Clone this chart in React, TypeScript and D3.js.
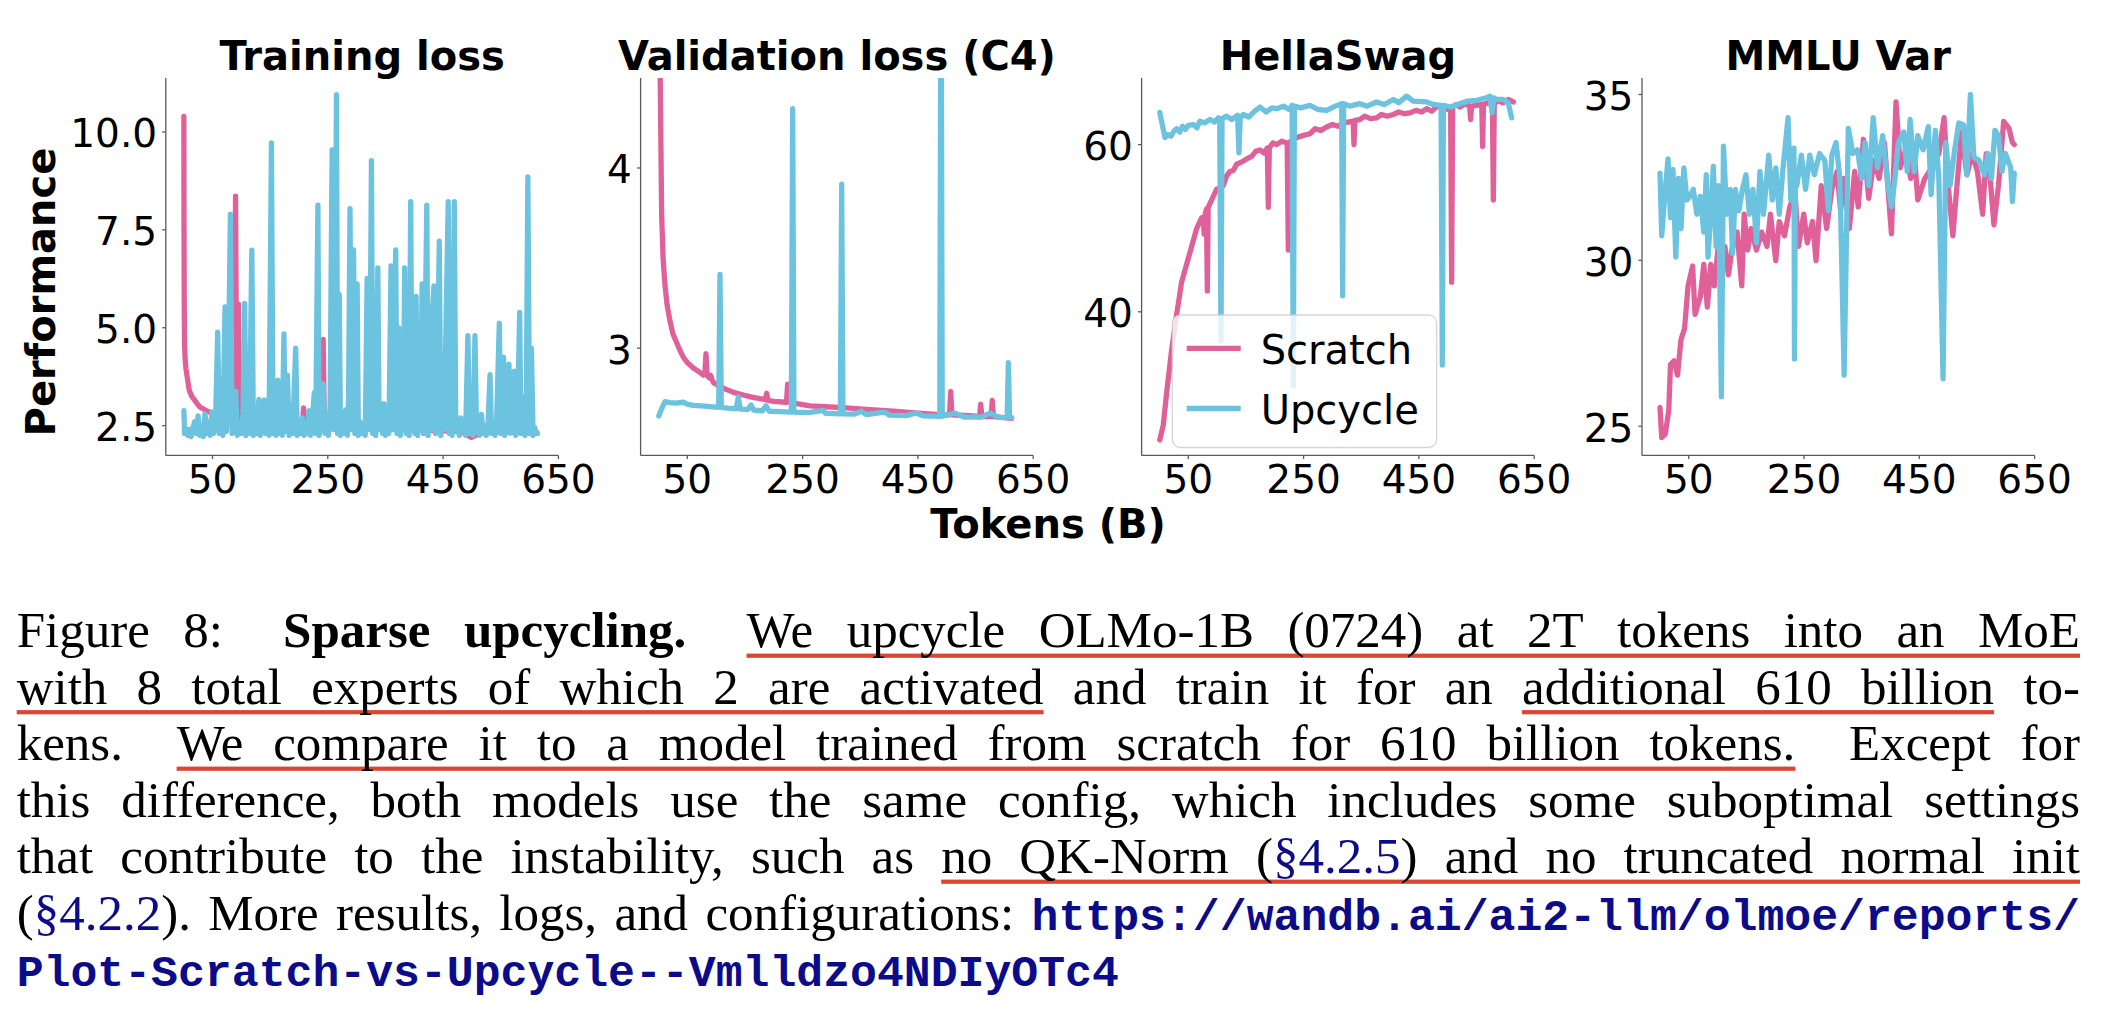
import React, { useEffect, useRef } from 'react';
import * as d3 from 'd3';

type Pt = [number, number];

// ---------------- data ----------------
const PANEL_TITLES = ['Training loss', 'Validation loss (C4)', 'HellaSwag', 'MMLU Var'];
const SERIES_NAMES = ['Scratch', 'Upcycle'];
const X_TICKS = [50, 250, 450, 650];
const X_DOMAIN: [number, number] = [-31, 650];
const Y_TICKS = [[2.5, 5.0, 7.5, 10.0], [3, 4], [40, 60], [25, 30, 35]];
const Y_TICK_LABELS = [['2.5', '5.0', '7.5', '10.0'], ['3', '4'], ['40', '60'], ['25', '30', '35']];
const Y_DOMAINS: [number, number][] = [[1.74, 11.38], [2.405, 4.5], [22.82, 67.98], [24.12, 35.5]];

const trainScratch: Pt[] = [
  [0.3, 10.4], [0.6, 7.5], [1, 5.6], [1.5, 4.6], [2.5, 4.2], [4, 3.95], [6, 3.75], [9.7, 3.4], [14, 3.25],
  [19, 3.15], [24, 3.05], [28.6, 2.97], [35, 2.92], [40.8, 2.87], [47, 2.83], [53, 2.79], [60, 2.75],
  [70, 2.71], [80, 2.68], [88, 2.66], [90, 8.36], [92, 2.65], [95, 5.6], [97, 2.64], [110, 2.61],
  [130, 2.58], [150, 2.56], [170, 2.54], [188, 2.53], [190, 2.9], [192, 2.52], [206, 2.51], [208, 2.95],
  [210, 2.5], [230, 2.49], [240, 2.48], [242, 4.7], [244, 2.48], [270, 2.46], [300, 2.44], [313, 2.52],
  [330, 2.42], [360, 2.41], [383, 2.4], [385, 4.7], [387, 2.4], [420, 2.38], [450, 2.37], [480, 2.36],
  [499, 2.2], [520, 2.35], [560, 2.34], [600, 2.33], [613, 2.32],
];

const trainUpcycle: Pt[] = [
  [0.5, 2.88], [1.5, 2.3], [4, 2.42], [7, 2.25], [10, 2.4], [13, 2.22], [16, 2.45], [19, 2.6], [22, 2.3],
  [25, 2.75], [28, 2.25], [31, 2.5], [34, 2.22], [37, 2.8], [40, 2.3], [43, 2.6], [46, 2.25], [49, 2.85],
  [52, 2.3], [55, 2.45], [59, 4.89], [62, 2.3], [65, 2.7], [68, 2.25], [71.7, 5.53], [74, 2.35], [77, 3.1],
  [81, 7.9], [84, 2.3], [87, 3.0], [90.3, 3.38], [93, 2.25], [96, 2.6], [100, 2.3], [103, 2.8], [105.8, 5.62],
  [108, 2.25], [111, 2.5], [114, 2.3], [118.2, 6.98], [121, 2.25], [124, 2.6], [127, 2.3], [130.5, 3.17],
  [133, 2.25], [136, 2.5], [139.8, 3.16], [142, 2.3], [145, 2.55], [148, 2.25], [152.2, 9.72], [155, 2.3],
  [158, 2.6], [160, 2.25], [163.4, 3.66], [166, 2.3], [169, 2.7], [171, 2.25], [173.9, 4.84], [176, 2.35],
  [180.1, 3.79], [183, 2.25], [186, 2.6], [189, 2.3], [194.3, 4.48], [197, 2.25], [200, 2.5], [203, 2.3],
  [206, 2.7], [209, 2.25], [212, 2.55], [215, 2.3], [217.3, 2.88], [220, 2.25], [223, 2.6], [226.6, 3.34],
  [229, 2.3], [232.8, 8.13], [235, 2.25], [238, 2.7], [242, 3.57], [245, 2.3], [248, 2.5], [251, 2.25],
  [254, 3.0], [257.5, 9.54], [260, 2.4], [263, 5.8], [265, 10.95], [267, 2.3], [269.9, 5.85], [272, 2.25],
  [275, 2.6], [278, 2.3], [281, 2.9], [284, 2.25], [286, 3.2], [288.5, 8.04], [291, 2.4], [294.7, 6.99],
  [297, 2.3], [300.9, 6.12], [303, 2.25], [306, 2.6], [309, 2.3], [312, 2.5], [315, 2.25], [318.2, 6.26],
  [320, 2.4], [323, 3.5], [325.7, 9.27], [328, 2.3], [331, 5.2], [333, 2.25], [336.8, 6.53], [339, 2.4],
  [342, 3.06], [345, 2.3], [347.4, 3.06], [350, 2.25], [353, 3.0], [356, 2.3], [359.7, 6.58], [362, 2.4],
  [365, 4.5], [367.8, 6.99], [370, 2.3], [373, 5.0], [376, 2.25], [379, 4.2], [381, 2.4], [383.3, 6.53],
  [386, 2.3], [389, 5.5], [391, 2.25], [393.8, 8.22], [396, 2.4], [399, 5.2], [401, 2.3], [403.1, 5.8],
  [406, 2.25], [409, 4.8], [411, 2.4], [413.6, 6.12], [416, 2.3], [419, 5.0], [421.7, 8.13], [424, 2.25],
  [427, 4.5], [429, 2.4], [431, 5.3], [434.1, 6.07], [437, 2.3], [440, 4.0], [443.4, 7.21], [446, 2.25],
  [449, 3.2], [452, 2.4], [455, 5.0], [458.9, 8.22], [461, 2.3], [464, 3.0], [466, 2.25], [469.4, 8.22],
  [472, 2.4], [475, 2.6], [478, 2.25], [480.6, 2.7], [483, 2.35], [486, 2.55], [489, 2.25], [493, 4.8],
  [496, 2.3], [499, 2.6], [502, 2.25], [505.3, 4.8], [508, 2.35], [511, 2.5], [513, 2.25], [516.5, 2.79],
  [519, 2.3], [522, 2.5], [525, 2.25], [528, 2.6], [531.4, 3.8], [534, 2.3], [537, 2.55], [540, 2.25],
  [543, 2.7], [547.5, 5.12], [550, 2.3], [552, 3.2], [554.9, 4.25], [557, 2.25], [560, 3.0], [564.2, 4.07],
  [567, 2.3], [570, 3.1], [573.5, 3.89], [576, 2.25], [579, 2.6], [582.8, 5.39], [585, 2.3], [589, 3.24],
  [592, 2.25], [594, 2.5], [597, 8.85], [600, 2.3], [603.2, 4.48], [606, 2.25], [609, 2.45], [611, 2.3],
  [613.7, 2.3],
];

const valScratch: Pt[] = [
  [0.5, 9.0], [2.7, 4.6], [5.5, 3.74], [8, 3.5], [11.3, 3.35], [15, 3.24], [20, 3.15], [25, 3.08],
  [31.6, 3.03], [37, 2.99], [43.1, 2.95], [50, 2.92], [60.5, 2.89], [70, 2.87], [78, 2.85], [80.5, 2.86],
  [82.4, 2.97], [84.3, 2.85], [88, 2.835], [90.5, 2.85], [92.3, 2.83], [95.2, 2.81], [105, 2.79],
  [118.3, 2.77], [130, 2.755], [147.2, 2.74], [160, 2.73], [176.1, 2.72], [185.5, 2.715], [187.7, 2.75],
  [190, 2.71], [200, 2.705], [222, 2.70], [224.1, 2.80], [226.3, 2.70], [245, 2.69], [262.9, 2.68],
  [290, 2.675], [320.7, 2.67], [360, 2.66], [407.4, 2.65], [450, 2.64], [494.1, 2.63], [505, 2.63],
  [506.9, 2.76], [509, 2.63], [540, 2.625], [557, 2.62], [558.9, 2.69], [561, 2.62], [577, 2.62],
  [579, 2.71], [581, 2.62], [600, 2.615], [612.7, 2.61],
];

const valUpcycle: Pt[] = [
  [0.5, 2.624], [5, 2.66], [11.3, 2.703], [20, 2.698], [30, 2.695], [43, 2.70], [50, 2.69], [60, 2.683],
  [75, 2.68], [90, 2.676], [104.5, 2.672], [106.7, 3.41], [109, 2.672], [120, 2.667], [135, 2.664],
  [138.5, 2.73], [142, 2.662], [155, 2.66], [160.5, 2.685], [165, 2.657], [180, 2.652], [186.5, 2.68],
  [192, 2.65], [210, 2.648], [230.5, 2.645], [232.8, 4.33], [235, 2.645], [260, 2.642], [286, 2.655],
  [290, 2.638], [315.5, 2.636], [317.8, 3.91], [320, 2.636], [340, 2.634], [352.5, 2.65], [360, 2.632],
  [392.9, 2.645], [400, 2.629], [430, 2.626], [446.7, 2.64], [460, 2.624], [488, 2.622], [490.1, 5.5],
  [492.2, 2.622], [514.4, 2.64], [530, 2.618], [560, 2.617], [575.1, 2.64], [590, 2.616], [604.8, 2.615],
  [606.9, 2.92], [609, 2.615], [612.7, 2.614],
];

const hellaScratch: Pt[] = [
  [0.5, 24.66], [6.6, 26.45], [12.4, 30.3], [21.1, 35.43], [29.8, 39.7], [38.4, 43.55], [47.1, 45.68],
  [55.8, 47.82], [64.5, 49.96], [73.1, 51.24], [76, 51.3], [77.5, 49.3], [79, 51.6], [81.5, 52.3],
  [83, 42.5], [84.5, 52.5], [90.5, 53.38], [99.2, 54.66], [105, 54.8], [110.7, 55.09], [116, 56.2],
  [122.3, 56.79], [128, 56.9], [133.8, 57.65], [142, 57.9], [151.2, 58.29], [160, 58.6], [167, 59.2],
  [174.3, 59.36], [181, 59.0], [187, 59.6], [188.8, 52.52], [190.5, 59.6], [197, 60.2], [203.2, 60.0],
  [212, 60.4], [221.5, 60.2], [223.5, 47.39], [225.5, 60.3], [232.1, 60.6], [240, 60.9], [250, 61.1],
  [261, 61.3], [270, 61.9], [280, 61.7], [290, 62.1], [300, 62.4], [310, 62.2], [318.9, 62.6], [327, 62.7],
  [336, 62.8], [337.4, 60.0], [339, 62.9], [347.8, 63.0], [356, 63.4], [366, 63.1], [376.7, 63.2],
  [385, 63.6], [395, 63.4], [405.6, 63.6], [415, 63.9], [425, 63.7], [434.5, 63.8], [445, 64.1],
  [455, 63.9], [463.4, 64.3], [472, 64.0], [482, 64.6], [492.3, 64.5], [500, 64.2], [505, 64.5],
  [506.8, 43.55], [508.5, 64.5], [515, 64.8], [521.2, 64.5], [530, 64.9], [538, 64.6], [539.7, 63.0],
  [541.5, 64.6], [550.2, 64.7], [559, 64.8], [560.6, 59.79], [562, 64.8], [570, 65.0], [577.5, 64.9],
  [579.1, 53.38], [580.7, 64.9], [588, 65.3], [596, 65.0], [605, 65.4], [613.8, 65.1],
];

const hellaUpcycle: Pt[] = [
  [0.5, 63.85], [9.5, 60.85], [15, 61.2], [20, 61.0], [25, 61.6], [29.8, 61.9], [35, 61.5], [40, 62.2],
  [45, 61.8], [50, 62.3], [58.7, 62.4], [65, 62.0], [70, 62.8], [78, 62.6], [87.6, 63.0], [95, 62.7],
  [102, 63.2], [104.5, 62.9], [106.7, 36.5], [108.5, 63.1], [116.5, 63.4], [125, 63.0], [135.5, 63.5],
  [137.9, 59.02], [140, 63.2], [145.4, 63.6], [155, 63.3], [165, 64.0], [174.3, 64.5], [185, 63.9],
  [195, 64.4], [203.2, 64.3], [215, 64.6], [225, 64.2], [230, 64.7], [232.1, 31.15], [234, 64.6],
  [245, 64.4], [261, 64.7], [275, 64.2], [290, 64.1], [305, 64.6], [316, 64.9], [317.7, 41.92],
  [319.5, 64.9], [330, 64.6], [347.8, 64.9], [360, 64.6], [376.7, 65.1], [390, 64.8], [405.6, 65.4],
  [415, 65.0], [428.7, 65.8], [440, 65.2], [463.4, 65.1], [475, 64.8], [488.5, 64.7], [490.6, 33.63],
  [492.5, 64.7], [505, 64.5], [521.2, 64.9], [535, 65.2], [550.2, 65.3], [562, 65.5], [573.3, 65.8],
  [577, 63.8], [580, 65.6], [585, 65.4], [596.4, 65.4], [605, 65.0], [610.9, 63.2],
];

const mmluScratch: Pt[] = [
  [0.2, 25.57], [3.2, 24.66], [9.3, 24.76], [15.4, 25.46], [18.4, 26.86], [24.5, 26.97], [30.6, 26.54],
  [36.7, 27.62], [42.8, 27.94], [48.9, 29.23], [56.8, 29.83], [61.0, 28.37], [70.2, 28.91], [76.2, 29.88],
  [82.3, 28.59], [88.4, 29.88], [94.5, 29.23], [100.6, 30.31], [106.7, 30.10], [112.7, 30.42],
  [118.8, 29.56], [124.9, 30.31], [134.0, 30.85], [142.0, 29.23], [146.2, 31.39], [152.3, 30.31],
  [158.4, 30.96], [167.5, 30.31], [176.6, 30.85], [185.8, 30.42], [191.8, 31.39], [201.0, 29.99],
  [207.1, 31.17], [216.2, 30.74], [225.3, 31.61], [234.4, 32.04], [240.5, 30.42], [249.6, 31.39],
  [255.7, 30.53], [264.8, 31.17], [270.9, 29.99], [280.0, 32.25], [289.2, 30.96], [298.3, 32.14],
  [307.4, 32.68], [313.5, 31.50], [319.6, 32.47], [328.7, 30.96], [337.9, 32.68], [344.0, 31.61],
  [353.1, 33.65], [362.2, 31.87], [371.3, 33.01], [380.4, 32.47], [389.6, 33.55], [401.7, 30.80],
  [409.6, 34.78], [417.0, 32.79], [426.1, 33.33], [435.2, 32.47], [441.3, 33.22], [447.4, 31.82],
  [459.5, 32.47], [471.7, 32.79], [483.9, 33.22], [493.0, 34.30], [499.1, 32.47], [508.2, 30.74],
  [514.3, 32.04], [523.4, 33.87], [532.5, 32.58], [541.7, 33.22], [550.8, 32.68], [559.9, 31.39],
  [566.0, 33.22], [572.1, 32.68], [579.4, 31.07], [587.3, 32.25], [596.4, 34.19], [605.6, 33.98],
  [611.6, 33.55], [614.7, 33.49],
];

const mmluUpcycle: Pt[] = [
  [0.2, 32.63], [3.2, 30.74], [9.3, 32.14], [14.2, 33.06], [18.4, 31.28], [22.7, 32.74], [27.6, 30.10],
  [32.4, 32.47], [36.7, 30.96], [41.6, 32.79], [47.0, 31.82], [51.9, 31.93], [58.0, 32.14], [64.1, 31.39],
  [70.2, 31.93], [76.2, 30.85], [80.5, 32.58], [83.5, 30.10], [88.4, 31.39], [92.7, 32.84], [97.5, 30.42],
  [101.8, 32.25], [106.7, 25.89], [110.3, 33.44], [115.8, 31.39], [121.9, 32.14], [126.1, 30.20],
  [131.0, 32.14], [137.1, 31.50], [143.2, 32.14], [149.3, 32.58], [155.3, 31.39], [161.4, 32.14],
  [167.5, 30.53], [173.6, 32.68], [179.7, 31.39], [188.8, 33.17], [194.9, 31.82], [201.0, 32.79],
  [207.1, 31.39], [213.1, 32.68], [222.3, 34.30], [227.1, 31.82], [232.6, 33.38], [233.5, 27.03],
  [235.0, 32.3], [237.5, 32.25], [245.4, 33.17], [252.7, 32.14], [260.0, 33.17], [267.9, 32.58],
  [277.0, 33.22], [286.1, 33.01], [292.2, 31.50], [298.3, 33.17], [305.6, 33.55], [312.3, 32.47],
  [319.6, 26.54], [326.9, 33.98], [334.8, 33.22], [342.7, 33.33], [350.0, 32.47], [356.1, 33.55],
  [362.2, 32.25], [370.1, 34.30], [377.4, 32.79], [386.5, 33.76], [395.7, 32.25], [401.7, 31.61],
  [407.8, 32.47], [413.9, 33.55], [423.0, 33.87], [429.1, 32.68], [434.0, 34.25], [441.3, 32.68],
  [447.4, 33.76], [456.5, 33.33], [465.6, 34.03], [470.5, 31.98], [477.8, 33.92], [483.9, 32.47],
  [491.2, 26.43], [496.0, 33.55], [503.3, 32.25], [511.3, 33.33], [518.6, 34.14], [526.5, 34.08],
  [532.5, 32.58], [538.6, 35.0], [544.7, 33.11], [553.8, 33.01], [563.0, 32.58], [569.0, 33.22],
  [575.1, 32.47], [581.2, 33.92], [587.3, 33.76], [593.4, 32.68], [599.4, 33.22], [608.6, 32.79],
  [611.6, 31.77], [614.7, 32.63],
];

const PANEL_SERIES: [Pt[], Pt[]][] = [
  [trainScratch, trainUpcycle],
  [valScratch, valUpcycle],
  [hellaScratch, hellaUpcycle],
  [mmluScratch, mmluUpcycle],
];

const CAPTION_LINES = [
  'Figure 8:  **Sparse** **upcycling.**  We upcycle OLMo-1B (0724) at 2T tokens into an MoE',
  'with 8 total experts of which 2 are activated and train it for an additional 610 billion to-',
  'kens.  We compare it to a model trained from scratch for 610 billion tokens.  Except for',
  'this difference, both models use the same config, which includes some suboptimal settings',
  'that contribute to the instability, such as no QK-Norm ([§4.2.5]) and no truncated normal init',
  '([§4.2.2]). More results, logs, and configurations: `https://wandb.ai/ai2-llm/olmoe/reports/`',
  '`Plot-Scratch-vs-Upcycle--Vmlldzo4NDIyOTc4`',
];
// [line, first word, last word]
const UNDERLINES: [number, number, number][] = [
  [0, 4, 13], [1, 0, 8], [1, 14, 16], [2, 1, 13], [4, 7, 14],
];

// ---------------- style / layout ----------------
const COLORS = ['#e0609a', '#6cc3df'];
const SANS = 'DejaVu Sans, sans-serif';
const SERIF = 'Liberation Serif, Times New Roman, serif';
const MONO = 'Liberation Mono, Courier New, monospace';
const LINK = '#0c0c8a';
const PANEL_LEFT = [165.8, 640.6, 1141.6, 1642];
const PANEL_W = 392.6;
const TOP = 77.9;
const BOTTOM = 455.4;
const LW = 5.3;

function Panel({ idx }: { idx: number }) {
  const left = PANEL_LEFT[idx];
  const right = left + PANEL_W;
  const xs = d3.scaleLinear().domain(X_DOMAIN).range([left, right]);
  const ys = d3.scaleLinear().domain(Y_DOMAINS[idx]).range([BOTTOM, TOP]);
  const line = d3.line<Pt>().x((d) => xs(d[0])).y((d) => ys(d[1]));
  const clipId = `clip-${idx}`;
  const spine = '#5a5a5a';
  return (
    <g>
      <defs>
        <clipPath id={clipId}>
          <rect x={left} y={TOP} width={PANEL_W} height={BOTTOM - TOP} />
        </clipPath>
      </defs>
      <g clipPath={`url(#${clipId})`}>
        {PANEL_SERIES[idx].map((s, k) => (
          <path key={k} d={line(s) || ''} fill="none" stroke={COLORS[k]} strokeWidth={LW}
            strokeLinejoin="round" strokeLinecap="round" />
        ))}
      </g>
      <line x1={left} y1={TOP} x2={left} y2={BOTTOM} stroke={spine} strokeWidth={1.3} />
      <line x1={left} y1={BOTTOM} x2={right} y2={BOTTOM} stroke={spine} strokeWidth={1.3} />
      {X_TICKS.map((t) => (
        <g key={t}>
          <line x1={xs(t)} x2={xs(t)} y1={BOTTOM} y2={BOTTOM + 3.6} stroke={spine} strokeWidth={1.3} />
          <text x={xs(t)} y={493} textAnchor="middle" fontFamily={SANS} fontSize={39} fill="#000">{t}</text>
        </g>
      ))}
      {Y_TICKS[idx].map((t, k) => (
        <g key={t}>
          <line x1={left - 3.6} x2={left} y1={ys(t)} y2={ys(t)} stroke={spine} strokeWidth={1.3} />
          <text x={left - 8.7} y={ys(t) + 15.5} textAnchor="end" fontFamily={SANS} fontSize={39} fill="#000">
            {Y_TICK_LABELS[idx][k]}
          </text>
        </g>
      ))}
      <text x={(left + right) / 2} y={70} textAnchor="middle" fontFamily={SANS} fontWeight="bold" fontSize={40}>
        {PANEL_TITLES[idx]}
      </text>
    </g>
  );
}

function Legend() {
  const x0 = 1172.3, y0 = 315, w = 264.4, h = 132.5;
  const rows = [348.3, 408.5];
  return (
    <g>
      <rect x={x0} y={y0} width={w} height={h} rx={8} ry={8} fill="#fff" fillOpacity={0.8}
        stroke="#cccccc" strokeOpacity={0.8} strokeWidth={1.3} />
      {SERIES_NAMES.map((n, k) => (
        <g key={n}>
          <line x1={1186.7} x2={1240.7} y1={rows[k]} y2={rows[k]} stroke={COLORS[k]} strokeWidth={LW} />
          <text x={1260.7} y={rows[k] + 15.2} fontFamily={SANS} fontSize={40} fill="#000">{n}</text>
        </g>
      ))}
    </g>
  );
}

type Seg = { text: string; kind: 'n' | 'b' | 'l' | 'm' };
function parseSegs(raw: string): Seg[] {
  const parts = raw.split(/(\*\*[^*]+\*\*|\[[^\]]+\]|`[^`]+`)/).filter((p) => p.length > 0);
  return parts.map((p) => {
    if (p.startsWith('**')) return { text: p.slice(2, -2), kind: 'b' };
    if (p.startsWith('[')) return { text: p.slice(1, -1), kind: 'l' };
    if (p.startsWith('`')) return { text: p.slice(1, -1), kind: 'm' };
    return { text: p, kind: 'n' };
  });
}

function Caption() {
  const ref = useRef<SVGGElement>(null);
  useEffect(() => {
    const root = d3.select(ref.current);
    root.selectAll('*').remove();
    const ulG = root.append('g');
    const txG = root.append('g');
    const LEFT = 16.7, RIGHT = 2080, BASE = 647, STEP = 56.5, SIZE = 51, MSIZE = 44.8;
    CAPTION_LINES.forEach((ln, li) => {
      const y = BASE + li * STEP;
      const words: { raw: string; big: boolean }[] = [];
      let big = false;
      ln.split(' ').forEach((t) => {
        if (t === '') { big = true; return; }
        words.push({ raw: t, big });
        big = false;
      });
      const els = words.map((w) => {
        const t = txG.append('text').attr('y', y).attr('font-family', SERIF).attr('font-size', SIZE).attr('fill', '#000');
        parseSegs(w.raw).forEach((s) => {
          const ts = t.append('tspan').text(s.text);
          if (s.kind === 'b') ts.attr('font-weight', 'bold');
          if (s.kind === 'l') ts.attr('fill', LINK);
          if (s.kind === 'm') ts.attr('fill', LINK).attr('font-family', MONO).attr('font-size', MSIZE).attr('font-weight', 'bold');
        });
        return t;
      });
      const widths = els.map((e) => (e.node() as SVGTextElement).getComputedTextLength());
      const total = d3.sum(widths);
      const weights = words.map((w, i) => (i === 0 ? 0 : w.big ? 1.8 : 1));
      const wsum = d3.sum(weights);
      const justify = li < CAPTION_LINES.length - 1 && words.length > 1;
      const unit = justify ? (RIGHT - LEFT - total) / wsum : SIZE * 0.25;
      const xs: number[] = [];
      let x = LEFT;
      els.forEach((e, i) => {
        x += weights[i] * unit;
        xs.push(x);
        e.attr('x', x);
        x += widths[i];
      });
      UNDERLINES.filter((u) => u[0] === li).forEach((u) => {
        ulG.append('rect').attr('x', xs[u[1]]).attr('y', y + 6.6)
          .attr('width', xs[u[2]] + widths[u[2]] - xs[u[1]]).attr('height', 4.2).attr('fill', '#dc4532');
      });
    });
  }, []);
  return <g ref={ref} />;
}

export default function App() {
  return (
    <svg width={2110} height={1014} viewBox="0 0 2110 1014"
      style={{ position: 'absolute', left: 0, top: 0, background: '#fff' }}>
      <rect x={0} y={0} width={2110} height={1014} fill="#fff" />
      {[0, 1, 2, 3].map((i) => <Panel key={i} idx={i} />)}
      <Legend />
      <text transform="translate(55.4,292) rotate(-90)" textAnchor="middle" fontFamily={SANS}
        fontWeight="bold" fontSize={40}>Performance</text>
      <text x={1048} y={538.3} textAnchor="middle" fontFamily={SANS} fontWeight="bold" fontSize={40}>Tokens (B)</text>
      <Caption />
    </svg>
  );
}
